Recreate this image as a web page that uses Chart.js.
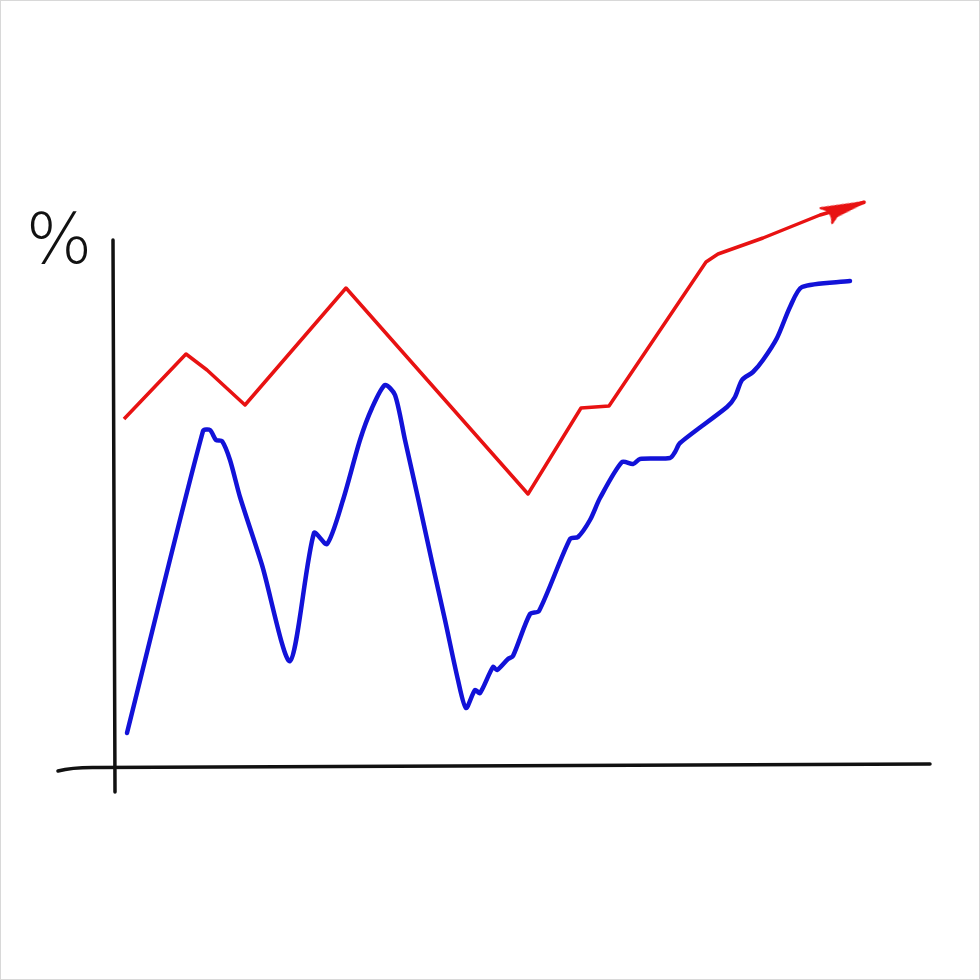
<!DOCTYPE html>
<html>
<head>
<meta charset="utf-8">
<script src="https://cdn.jsdelivr.net/npm/chart.js@4/dist/chart.umd.min.js"></script>
<style>
  html, body { margin: 0; padding: 0; background: #fff; }
  #wrap { width: 980px; height: 980px; }
</style>
</head>
<body>
<div id="wrap"><canvas id="c" width="980" height="980"></canvas></div>
<script>
// Values (x: position along the time axis, y: percent)
const redX  = [1.1, 7.3, 9.4, 13.2, 23.3, 41.5, 46.8, 49.6, 59.3, 60.5, 65.0, 70.7, 75.2];
const redY  = [34.9, 41.4, 39.8, 36.3, 48.0, 27.4, 36.0, 36.2, 50.6, 51.4, 53.0, 55.3, 56.6];

const blueX = [1.4, 9.0, 9.7, 10.3, 10.9, 11.7, 12.7, 14.9, 17.7, 20.1, 21.4, 23.0, 24.7, 25.9, 27.2,
               28.2, 29.2, 30.5, 31.9, 33.2, 34.5, 35.3, 36.2, 36.7, 38.0, 38.4, 39.5, 40.0, 41.7, 42.6,
               45.7, 46.5, 47.7, 48.7, 50.9, 52.0, 52.7, 55.7, 56.2, 56.7, 61.4, 62.2, 62.9, 64.0, 65.0,
               66.4, 67.7, 68.9, 73.7];
const blueY = [3.5, 33.7, 33.8, 32.8, 32.7, 30.8, 27.1, 20.3, 10.7, 23.5, 22.4, 26.8, 32.8, 36.0, 38.3,
               37.3, 32.8, 27.0, 20.6, 14.8, 8.8, 6.0, 7.8, 7.5, 10.1, 9.8, 10.9, 11.2, 15.4, 15.7,
               22.9, 23.1, 24.8, 27.0, 30.6, 30.4, 30.9, 31.0, 31.6, 32.5, 36.1, 37.1, 38.8, 39.6, 40.8,
               43.0, 46.1, 48.1, 48.7];

const redData  = redX.map((x, i) => ({ x, y: redY[i] }));
const blueData = blueX.map((x, i) => ({ x, y: blueY[i] }));

// Arrow head image: tip sits at the image centre so it lands on the last data point
const head = document.createElement('canvas');
head.width = 100; head.height = 36;
(function () {
  const g = head.getContext('2d');
  const cx = 50, cy = 18;
  g.fillStyle = '#e81212';
  g.strokeStyle = '#e81212';
  g.lineWidth = 2;
  g.lineJoin = 'round';
  g.beginPath();
  g.moveTo(cx, cy);
  g.lineTo(cx - 44, cy - 9);
  g.quadraticCurveTo(cx - 33, cy - 3, cx - 38, cy + 9);
  g.lineTo(cx - 31, cy + 4);
  g.closePath();
  g.fill();
  g.stroke();
})();

const decor = {
  id: 'decor',
  beforeDatasetsDraw(chart) {
    const { ctx } = chart;
    const xs = chart.scales.x, ys = chart.scales.y;
    const P = (x, y) => [xs.getPixelForValue(x), ys.getPixelForValue(y)];
    ctx.save();
    // thin frame round the picture
    ctx.strokeStyle = '#d8d8d8';
    ctx.lineWidth = 1;
    ctx.strokeRect(0.5, 0.5, chart.width - 1, chart.height - 1);
    // hand-drawn axes
    ctx.strokeStyle = '#111';
    ctx.lineWidth = 3.5;
    ctx.lineCap = 'round';
    ctx.lineJoin = 'round';
    ctx.beginPath();
    let p = P(0, 52.8); ctx.moveTo(p[0], p[1]);
    p = P(0.2, -2.4); ctx.lineTo(p[0], p[1]);
    ctx.stroke();
    ctx.beginPath();
    p = P(-5.5, -0.3); ctx.moveTo(p[0], p[1]);
    let q = P(-4.0, 0.1), r = P(-1.5, 0.05);
    ctx.quadraticCurveTo(q[0], q[1], r[0], r[1]);
    p = P(81.7, 0.4); ctx.lineTo(p[0], p[1]);
    ctx.stroke();
    // percent sign
    ctx.fillStyle = '#111';
    ctx.font = '200 70px "DejaVu Sans"';
    ctx.textAlign = 'center';
    ctx.textBaseline = 'middle';
    p = P(-5.4, 52.3);
    ctx.fillText('%', p[0], p[1]);
    ctx.restore();
  }
};

new Chart(document.getElementById('c'), {
  type: 'line',
  data: {
    datasets: [
      {
        label: 'red',
        data: redData,
        borderColor: '#e81212',
        borderWidth: 3.5,
        tension: 0,
        fill: false,
        clip: false,
        borderJoinStyle: 'round',
        pointStyle: (c) => c.dataIndex === redData.length - 1 ? head : 'circle',
        pointRadius: (c) => c.dataIndex === redData.length - 1 ? 10 : 0,
        pointRotation: (c) => {
          const n = redData.length;
          const xs = c.chart.scales.x, ys = c.chart.scales.y;
          const dx = xs.getPixelForValue(redX[n - 1]) - xs.getPixelForValue(redX[n - 3]);
          const dy = ys.getPixelForValue(redY[n - 1]) - ys.getPixelForValue(redY[n - 3]);
          return Math.atan2(dy, dx) * 180 / Math.PI;
        },
        pointHoverRadius: 0
      },
      {
        label: 'blue',
        data: blueData,
        borderColor: '#1212d8',
        borderWidth: 4.5,
        tension: 0.25,
        fill: false,
        clip: false,
        pointRadius: 0,
        pointHoverRadius: 0,
        borderJoinStyle: 'round',
        borderCapStyle: 'round'
      }
    ]
  },
  options: {
    responsive: false,
    animation: false,
    devicePixelRatio: 1,
    layout: { padding: { left: 113, right: 47, top: 168, bottom: 212 } },
    plugins: { legend: { display: false }, tooltip: { enabled: false } },
    scales: {
      x: { type: 'linear', min: 0, max: 82, display: false },
      y: { type: 'linear', min: 0, max: 60, display: false }
    }
  },
  plugins: [decor]
});
</script>
</body>
</html>
